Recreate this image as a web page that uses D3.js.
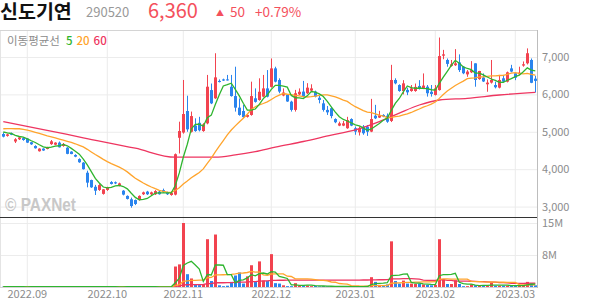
<!DOCTYPE html>
<html>
<head>
<meta charset="utf-8">
<script src="https://cdn.jsdelivr.net/npm/d3@7"></script>
<style>
body { margin: 0; background: #fff; }
text { font-family: "Noto Sans CJK KR", "Noto Sans", sans-serif; }
</style>
</head>
<body>
<script>
// trading days shown (KRX, 2022-08-24 .. 2023-03-09)
var dates = [
"2022-08-24","2022-08-25","2022-08-26","2022-08-29","2022-08-30","2022-08-31",
"2022-09-01","2022-09-02","2022-09-05","2022-09-06","2022-09-07","2022-09-08","2022-09-13","2022-09-14","2022-09-15","2022-09-16",
"2022-09-19","2022-09-20","2022-09-21","2022-09-22","2022-09-23","2022-09-26","2022-09-27","2022-09-28","2022-09-29","2022-09-30",
"2022-10-04","2022-10-05","2022-10-06","2022-10-07","2022-10-11","2022-10-12","2022-10-13","2022-10-14","2022-10-17","2022-10-18",
"2022-10-19","2022-10-20","2022-10-21","2022-10-24","2022-10-25","2022-10-26","2022-10-27","2022-10-28","2022-10-31",
"2022-11-01","2022-11-02","2022-11-03","2022-11-04","2022-11-07","2022-11-08","2022-11-09","2022-11-10","2022-11-11","2022-11-14",
"2022-11-15","2022-11-16","2022-11-17","2022-11-18","2022-11-21","2022-11-22","2022-11-23","2022-11-24","2022-11-25","2022-11-28",
"2022-11-29","2022-11-30",
"2022-12-01","2022-12-02","2022-12-05","2022-12-06","2022-12-07","2022-12-08","2022-12-09","2022-12-12","2022-12-13","2022-12-14",
"2022-12-15","2022-12-16","2022-12-19","2022-12-20","2022-12-21","2022-12-22","2022-12-23","2022-12-26","2022-12-27","2022-12-28","2022-12-29",
"2023-01-02","2023-01-03","2023-01-04","2023-01-05","2023-01-06","2023-01-09","2023-01-10","2023-01-11","2023-01-12","2023-01-13",
"2023-01-16","2023-01-17","2023-01-18","2023-01-19","2023-01-20","2023-01-25","2023-01-26","2023-01-27","2023-01-30","2023-01-31",
"2023-02-01","2023-02-02","2023-02-03","2023-02-06","2023-02-07","2023-02-08","2023-02-09","2023-02-10","2023-02-13","2023-02-14",
"2023-02-15","2023-02-16","2023-02-17","2023-02-20","2023-02-21","2023-02-22","2023-02-23","2023-02-24","2023-02-27","2023-02-28",
"2023-03-02","2023-03-03","2023-03-06","2023-03-07","2023-03-08","2023-03-09"
];

var open = [
4940,4890,4960,4740,4800,4830,4820,4720,4620,4480,
4550,4540,4670,4655,4710,4620,4575,4470,4380,4270,
4175,3905,3710,3530,3445,3340,3445,3655,3650,3550,
3425,3285,3195,3175,3175,3330,3400,3330,3330,3400,
3440,3380,3310,3320,4840,4980,5555,5000,5165,5240,
5020,5225,6115,5895,6360,6400,6400,6205,5955,5645,
5555,5400,5450,5895,5850,5940,6160,6200,6695,6385,
5970,5985,5805,5585,6000,6075,6030,6100,6075,5910,
5760,5585,5630,5340,5165,5165,5095,5340,5095,4985,
5135,5135,5005,5430,5380,5450,5430,5290,6385,6250,
6090,6120,6090,6090,6225,6160,6205,6070,5985,6115,
7035,6920,6760,6780,6855,6740,6535,6590,6830,6410,
6450,6270,6315,6250,6180,6430,6340,6695,6565,6540,
6770,6830,6920,6420
];
var high = [
4980,4950,4980,4830,4870,4860,4830,4730,4640,4560,
4560,4600,4780,4720,4740,4700,4590,4480,4400,4290,
4190,3960,3720,3580,3600,3470,3530,3680,3670,3640,
3440,3300,3240,3190,3300,3400,3420,3400,3440,3420,
3480,3400,3400,4420,5270,6385,5965,5540,5360,5400,
5230,6520,6290,7100,6400,6420,6520,6520,6740,5890,
5720,5460,6340,6160,6430,6520,6650,6960,6740,6430,
6160,6010,5830,6120,6160,6360,6300,6270,6100,5980,
5850,5690,5670,5360,5270,5290,5400,5360,5140,5140,
5180,5180,5880,5720,5560,5470,5490,6790,6430,6270,
6380,6180,6250,6290,6380,6560,6250,6250,6250,7520,
7190,6960,6920,7210,7070,6760,6650,6890,6830,6630,
6560,6400,6920,6340,6520,6520,6610,6790,6570,6740,
6880,7230,6960,6500
];
var low = [
4850,4870,4910,4700,4780,4760,4700,4650,4550,4470,
4490,4530,4650,4640,4580,4600,4400,4400,4320,4170,
3990,3515,3500,3310,3420,3320,3420,3590,3600,3540,
3300,3190,2970,3040,3160,3310,3310,3300,3310,3320,
3370,3310,3290,3300,4420,4950,5000,4980,5000,5010,
5000,5200,5740,5880,6320,6360,6370,5940,5540,5430,
5370,5380,5430,5780,5830,5920,5920,6180,6320,6030,
5950,5800,5540,5540,5980,5920,6010,6090,5920,5760,
5540,5450,5360,5230,5150,5150,5080,5150,4920,4900,
4920,4890,4990,5340,5370,5390,5240,5260,6270,6070,
6000,5980,6070,6070,6130,6140,5940,5940,5970,6100,
6940,6740,6740,6760,6600,6540,6470,6570,6205,6390,
6330,6070,6290,6160,6160,6330,6320,6590,6380,6520,
6740,6800,6300,6050
];
var close = [
4870,4930,4920,4800,4850,4780,4710,4665,4560,4550,
4500,4590,4745,4710,4585,4675,4410,4405,4335,4185,
4000,3640,3515,3425,3575,3460,3515,3605,3620,3620,
3320,3205,3015,3070,3285,3380,3330,3380,3415,3330,
3385,3330,3370,4400,5020,5475,5065,5420,5020,5040,
5200,6205,5760,6455,6330,6370,6380,5955,5645,5450,
5390,5450,5955,5800,6070,6160,5940,6695,6340,6075,
6050,5810,5585,6030,6070,5940,6180,6160,5940,5850,
5585,5520,5420,5255,5225,5225,5315,5165,5005,5075,
4960,5000,5340,5360,5440,5410,5270,6385,6295,6090,
6295,6055,6160,6200,6145,6235,6030,6010,6160,7025,
7070,6815,6805,6830,6650,6565,6610,6650,6385,6625,
6345,6315,6385,6190,6385,6340,6590,6610,6445,6580,
6805,7100,6310,6360
];
// volume, millions of shares
var volume = [
0.08,0.06,0.05,0.07,0.05,0.04,0.05,0.06,0.07,0.05,
0.04,0.05,0.08,0.05,0.06,0.04,0.09,0.05,0.05,0.07,
0.10,0.15,0.10,0.09,0.08,0.06,0.05,0.05,0.04,0.05,
0.07,0.08,0.12,0.08,0.07,0.05,0.04,0.05,0.06,0.04,
0.05,0.04,0.06,4.8,5.3,15.0,3.0,2.0,0.5,0.45,
0.5,11.2,1.4,12.3,0.4,0.2,0.3,1.2,2.7,3.4,
0.8,2.5,5.1,1.3,6.0,1.5,1.4,7.7,0.9,0.8,
0.4,0.2,0.2,0.9,0.3,0.4,0.35,0.2,0.25,0.15,
0.2,0.15,0.15,0.12,0.1,0.1,0.12,0.1,0.1,0.1,
0.12,0.15,2.3,1.2,0.5,0.4,0.6,10.7,1.4,0.8,
1.5,0.8,0.8,0.7,0.8,0.6,0.5,0.4,0.5,11.2,
1.8,0.7,0.7,1.6,0.7,0.2,0.2,0.6,0.4,0.3,
0.3,0.3,1.0,0.3,0.3,0.3,0.3,0.3,0.3,0.3,
0.5,1.2,0.9,0.4
];
// closes / volumes of the days before the first visible candle (for the averages)
var preClose = [4880,4900,4870,4860,5100,5150,5150,5200,5150,5150,5250,5300,5250,5200,5250,5050,5000,5050,5000];
var preVolume = [0.1,0.08,0.09,0.1,0.07,0.08,0.1,0.09,0.08,0.07,0.09,0.08,0.1,0.07,0.08,0.09,0.07,0.08,0.09];

// 60-day average
var ma60Dates = ["2022-08-24","2022-09-07","2022-09-23","2022-10-14","2022-10-28","2022-11-11","2022-11-18","2022-11-25",
  "2022-12-02","2022-12-13","2022-12-22","2023-01-02","2023-01-10","2023-01-17","2023-01-26","2023-02-02","2023-02-13","2023-02-23","2023-03-09"];
var ma60Values = [5270,5060,4840,4560,4320,4320,4380,4470,4590,4740,4910,5050,5270,5500,5716,5850,5895,5984,6055];

var priceTicks = [3000,4000,5000,6000,7000];
var volTicks = [7.5,15];
var monthTicks = ["2022-09-01","2022-10-04","2022-11-01","2022-12-01","2023-01-02","2023-02-01","2023-03-02"];
var monthLabels = ["2022.09","2022.10","2022.11","2022.12","2023.01","2023.02","2023.03"];

var RED = "#f2434f", BLUE = "#2a84ee";
var C5 = "#2fb52f", C20 = "#ffa42c", C60 = "#ee3560";

var w = 594, h = 304;
var plotR = 537, priceTop = 31, priceBot = 217, volBot = 287;

var svg = d3.select("body").append("svg").attr("width", w).attr("height", h);

var x = d3.scaleBand().domain(dates).range([1.3, 537.3]).paddingInner(0.25).paddingOuter(0.125);
var bw = x.bandwidth();
var cx = function (d) { return x(d) + bw / 2; };
var y = d3.scaleLinear().domain([2700, 7700]).range([217.8, 30.8]);
var yv = d3.scaleLinear().domain([0, 15]).range([volBot, 223]);

function movingAvg(all, n, skip) {
    return d3.range(skip, all.length).map(function (k) {
        return d3.mean(all.slice(Math.max(0, k - n + 1), k + 1));
    });
}
var allClose = preClose.concat(close);
var allVol = preVolume.concat(volume);
var ma5 = movingAvg(allClose, 5, preClose.length);
var ma20 = movingAvg(allClose, 20, preClose.length);
var vma5 = movingAvg(allVol, 5, preVolume.length);
var vma20 = movingAvg(allVol, 20, preVolume.length);
var vma60 = movingAvg(allVol, 60, preVolume.length);

var defs = svg.append("defs");
defs.append("clipPath").attr("id", "clipP").append("rect")
    .attr("x", 0).attr("y", priceTop).attr("width", plotR).attr("height", priceBot - priceTop);
defs.append("clipPath").attr("id", "clipV").append("rect")
    .attr("x", 0).attr("y", priceBot).attr("width", plotR).attr("height", volBot - priceBot + 1);

//GRID
svg.append("g").attr("class", "grid")
    .attr("transform", "translate(" + plotR + ",0)")
    .call(d3.axisLeft(y).tickValues(priceTicks).tickSize(plotR).tickFormat(""))
    .call(function (g) { g.select(".domain").remove(); g.selectAll("line").attr("stroke", "#ececec"); });
svg.append("g").attr("class", "grid")
    .attr("transform", "translate(" + plotR + ",0)")
    .call(d3.axisLeft(yv).tickValues(volTicks).tickSize(plotR).tickFormat(""))
    .call(function (g) { g.select(".domain").remove(); g.selectAll("line").attr("stroke", "#ececec"); });
svg.append("g").selectAll("line").data(monthTicks).enter().append("line")
    .attr("x1", cx).attr("x2", cx)
    .attr("y1", priceTop).attr("y2", volBot)
    .attr("stroke", "#ececec");

// watermark
svg.append("text").attr("x", 5).attr("y", 211)
    .attr("font-size", 18).attr("font-weight", "bold")
    .attr("fill", "#c8c8c8")
    .attr("textLength", 71).attr("lengthAdjust", "spacingAndGlyphs")
    .style("font-family", "'Liberation Sans', Arial, sans-serif")
    .text("\u00A9 PAXNet");

//CANDLES
var rows = dates.map(function (d, i) {
    return { d: d, o: open[i], h: high[i], l: low[i], c: close[i], v: volume[i], up: close[i] >= open[i] };
});

var pg = svg.append("g").attr("clip-path", "url(#clipP)");
pg.selectAll("line.wick").data(rows).enter().append("line")
    .attr("class", "wick")
    .attr("x1", function (r) { return Math.round(cx(r.d)) + 0.5; })
    .attr("x2", function (r) { return Math.round(cx(r.d)) + 0.5; })
    .attr("y1", function (r) { return y(r.h); })
    .attr("y2", function (r) { return y(r.l); })
    .attr("stroke", function (r) { return r.up ? RED : BLUE; });
pg.selectAll("rect.body").data(rows).enter().append("rect")
    .attr("class", "body")
    .attr("x", function (r) { return Math.round(cx(r.d)) - 1; })
    .attr("width", 3)
    .attr("y", function (r) { return y(Math.max(r.o, r.c)); })
    .attr("height", function (r) { return Math.max(1, Math.abs(y(r.o) - y(r.c))); })
    .attr("fill", function (r) { return r.up ? RED : BLUE; });

var line = d3.line().x(function (p) { return cx(p[0]); }).y(function (p) { return y(p[1]); });
pg.append("path").datum(d3.zip(ma60Dates, ma60Values))
    .attr("d", line.curve(d3.curveMonotoneX)).attr("fill", "none").attr("stroke", C60).attr("stroke-width", 1.3);
line.curve(d3.curveLinear);
pg.append("path").datum(d3.zip(dates, ma20))
    .attr("d", line).attr("fill", "none").attr("stroke", C20).attr("stroke-width", 1.3);
pg.append("path").datum(d3.zip(dates, ma5))
    .attr("d", line).attr("fill", "none").attr("stroke", C5).attr("stroke-width", 1.3);

//VOLUME
var vg = svg.append("g").attr("clip-path", "url(#clipV)");
vg.selectAll("rect").data(rows).enter().append("rect")
    .attr("x", function (r) { return Math.round(cx(r.d)) - 1; })
    .attr("width", 3)
    .attr("y", function (r) { return yv(r.v); })
    .attr("height", function (r) { return volBot - yv(r.v); })
    .attr("fill", function (r) { return r.up ? RED : BLUE; });
var vline = d3.line().x(function (p) { return cx(p[0]); }).y(function (p) { return yv(p[1]); });
[[vma60, C60], [vma20, C20], [vma5, C5]].forEach(function (s) {
    vg.append("path").datum(d3.zip(dates, s[0]))
        .attr("d", vline).attr("fill", "none").attr("stroke", s[1]).attr("stroke-width", 1.3);
});

// frame
svg.append("line").attr("x1", 0).attr("x2", plotR).attr("y1", priceTop - 0.5).attr("y2", priceTop - 0.5).attr("stroke", "#d4d4d4");
svg.append("line").attr("x1", 0.5).attr("x2", 0.5).attr("y1", priceTop).attr("y2", volBot).attr("stroke", "#e4e4e4");
svg.append("line").attr("x1", plotR + 0.5).attr("x2", plotR + 0.5).attr("y1", priceTop - 1).attr("y2", volBot + 1).attr("stroke", "#bdbdbd");
svg.append("line").attr("x1", 0).attr("x2", plotR).attr("y1", priceBot + 0.5).attr("y2", priceBot + 0.5).attr("stroke", "#333");
svg.append("line").attr("x1", 0).attr("x2", plotR).attr("y1", volBot + 0.5).attr("y2", volBot + 0.5).attr("stroke", "#d4d4d4");

//AXES
function styleAxis(g) {
    g.select(".domain").remove();
    g.selectAll("text").attr("fill", "#8c8c8c").attr("font-size", 11)
        .style("font-family", "'Noto Sans CJK KR', 'Noto Sans', sans-serif");
}
svg.append("g").attr("transform", "translate(" + (plotR + 5) + ",0)")
    .call(d3.axisRight(y).tickValues(priceTicks).tickFormat(d3.format(",")).tickSize(0).tickPadding(0))
    .call(styleAxis);
svg.append("g").attr("transform", "translate(" + (plotR + 5) + ",0)")
    .call(d3.axisRight(yv).tickValues(volTicks).tickFormat(function (v) { return Math.round(v) + "M"; }).tickSize(0).tickPadding(0))
    .call(styleAxis);
svg.append("g").attr("transform", "translate(0," + volBot + ")")
    .call(d3.axisBottom(x).tickValues(monthTicks)
        .tickFormat(function (d) { return monthLabels[monthTicks.indexOf(d)]; }).tickSize(0).tickPadding(3))
    .call(styleAxis);

// legend
var lg = svg.append("text").attr("x", 7).attr("y", 45).attr("font-size", 11.5);
lg.append("tspan").attr("fill", "#8c8c8c").text("이동평균선");
lg.append("tspan").attr("fill", C5).attr("dx", 6).attr("font-weight", 500).text("5");
lg.append("tspan").attr("fill", C20).attr("dx", 4).attr("font-weight", 500).text("20");
lg.append("tspan").attr("fill", C60).attr("dx", 4).attr("font-weight", 500).text("60");

// header
var last = close[close.length - 1], prev = close[close.length - 2];
svg.append("text").attr("x", 0).attr("y", 19).attr("font-size", 19.5).attr("font-weight", "bold").attr("fill", "#111").text("신도기연");
svg.append("text").attr("x", 86).attr("y", 17).attr("font-size", 13).attr("fill", "#999").text("290520");
svg.append("text").attr("x", 148).attr("y", 18).attr("font-size", 20).attr("fill", "#f4505c").text(d3.format(",")(last));
svg.append("text").attr("x", 216).attr("y", 15.5).attr("font-size", 8).attr("fill", "#f4505c").text("▲");
svg.append("text").attr("x", 230).attr("y", 17).attr("font-size", 13.5).attr("fill", "#f4505c").text(last - prev);
svg.append("text").attr("x", 255).attr("y", 17).attr("font-size", 13.5).attr("fill", "#f4505c")
    .text("+" + d3.format(".2f")((last - prev) / prev * 100) + "%");
</script>
</body>
</html>
